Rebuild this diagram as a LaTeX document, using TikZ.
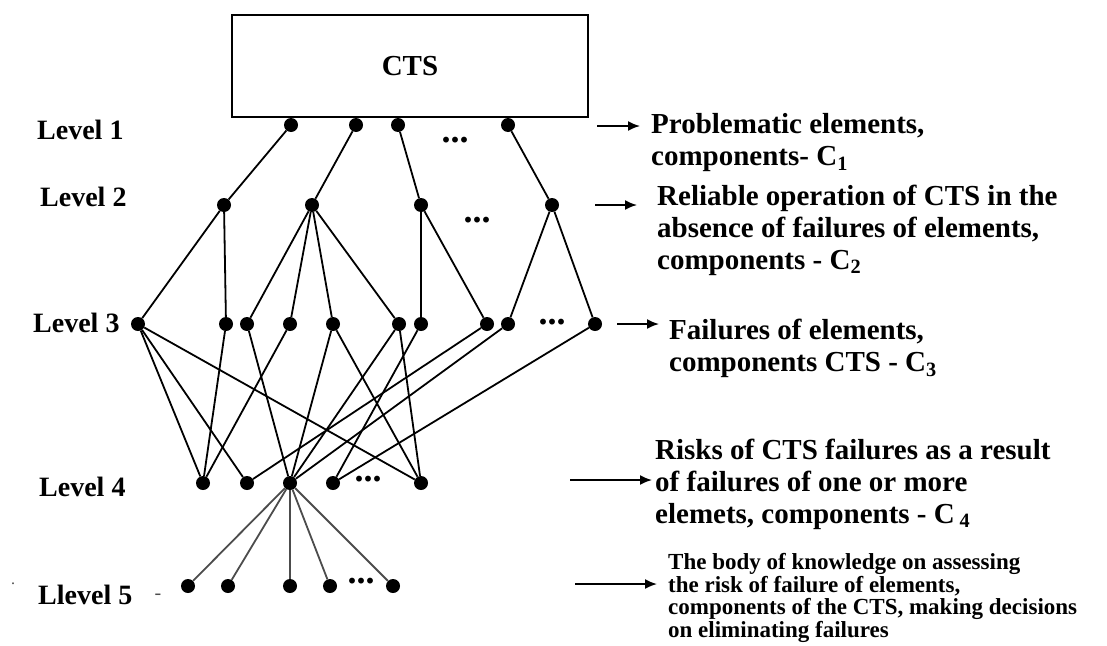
\documentclass[tikz,border=0pt]{standalone}
\usepackage{fontspec}
\setmainfont{Liberation Serif}
\usetikzlibrary{arrows.meta}

\tikzset{
  dot/.style={circle, fill=black, inner sep=0pt, minimum size=14pt},
  edge/.style={line width=1.8pt},
  pointer/.style={line width=1.8pt, -{Latex[length=12pt,width=10pt]}},
  lvl/.style={anchor=west, inner sep=0pt, font=\bfseries\fontsize{28}{32}\selectfont},
  note/.style={anchor=west, align=left, inner sep=0pt, font=\bfseries\fontsize{29}{32}\selectfont},
  gapdots/.style={inner sep=0pt, font=\bfseries\fontsize{36}{36}\selectfont}
}

\begin{document}
\begin{tikzpicture}[x=1pt, y=-1pt]
    \useasboundingbox (0,0) rectangle (1107,645);

    % System box
    \node[draw, line width=2.4pt, minimum width=356pt, minimum height=102pt, inner sep=0pt,
          font=\bfseries\fontsize{29}{32}\selectfont] (cts) at (410,66) {CTS};

    % Level nodes
    \foreach \x [count=\i] in {291,356,398,508} \node[dot] (a\i) at (\x,125) {};
    \foreach \x [count=\i] in {224,312,421,552} \node[dot] (b\i) at (\x,205) {};
    \foreach \x [count=\i] in {138,226,247,290,333,399,421,487,508,595} \node[dot] (c\i) at (\x,324) {};
    \foreach \x [count=\i] in {203,247,290,333,421} \node[dot] (d\i) at (\x,483) {};
    \foreach \x [count=\i] in {188,228,290,330,393} \node[dot] (e\i) at (\x,586) {};

    % Gaps in the rows
    \node[gapdots] (g1) at (455,140) {...};
    \node[gapdots] (g2) at (477,220) {...};
    \node[gapdots] (g3) at (552,322) {...};
    \node[gapdots] (g4) at (368,479) {...};
    \node[gapdots] (g5) at (361,581) {...};

    % Links
    \foreach \s/\t in {a1/b1, a2/b2, a3/b3, a4/b4,
                       b1/c1, b1/c2, b2/c3, b2/c4, b2/c5, b2/c6, b3/c7, b3/c8, b4/c9, b4/c10,
                       c1/d1, c1/d2, c1/d5, c2/d1, c3/d3, c4/d1, c5/d3, c5/d5,
                       c6/d3, c6/d5, c7/d4, c8/d2, c9/d3, c10/d4}
        \draw[edge] (\s) -- (\t);
    \foreach \t in {e1,e2,e3,e4,e5} \draw[edge, black!70] (d3) -- (\t);

    % Level labels
    \node[lvl] (lab1) at (37,130) {Level 1};
    \node[lvl] (lab2) at (40,197) {Level 2};
    \node[lvl] (lab3) at (33,323) {Level 3};
    \node[lvl] (lab4) at (39,487) {Level 4};
    \node[lvl] (lab5) at (38,595) {Llevel 5};
    \node[font=\fontsize{20}{20}\selectfont, black!70] (lab5dash) at (158,597) {-};
    \node[font=\fontsize{16}{16}\selectfont, black!70] (spot) at (13,584) {.};

    % Descriptions
    \node[note] (note1) at (651,143) {Problematic elements,\\components- C\textsubscript{1}};
    \node[note] (note2) at (657,230) {Reliable operation of CTS in the\\absence of failures of elements,\\components - C\textsubscript{2}};
    \node[note] (note3) at (669,348) {Failures of elements,\\components CTS - C\textsubscript{3}};
    \node[note] (note4) at (655,484) {Risks of CTS failures as a result\\of failures of one or more\\elemets, components - C\,\textsubscript{4}};
    \node[note, font=\bfseries\fontsize{23}{22.5}\selectfont] (note5) at (668,598)
        {The body of knowledge on assessing\\the risk of failure of elements,\\components of the CTS, making decisions\\on eliminating failures};

    % Arrows
    \coordinate (p1) at (597,126); \coordinate (q1) at (640,126);
    \coordinate (p2) at (595,205); \coordinate (q2) at (637,205);
    \coordinate (p3) at (617,324); \coordinate (q3) at (659,324);
    \coordinate (p4) at (570,480); \coordinate (q4) at (652,480);
    \coordinate (p5) at (575,584); \coordinate (q5) at (657,584);
    \foreach \i in {1,...,5} \draw[pointer] (p\i) -- (q\i);
\end{tikzpicture}
\end{document}
